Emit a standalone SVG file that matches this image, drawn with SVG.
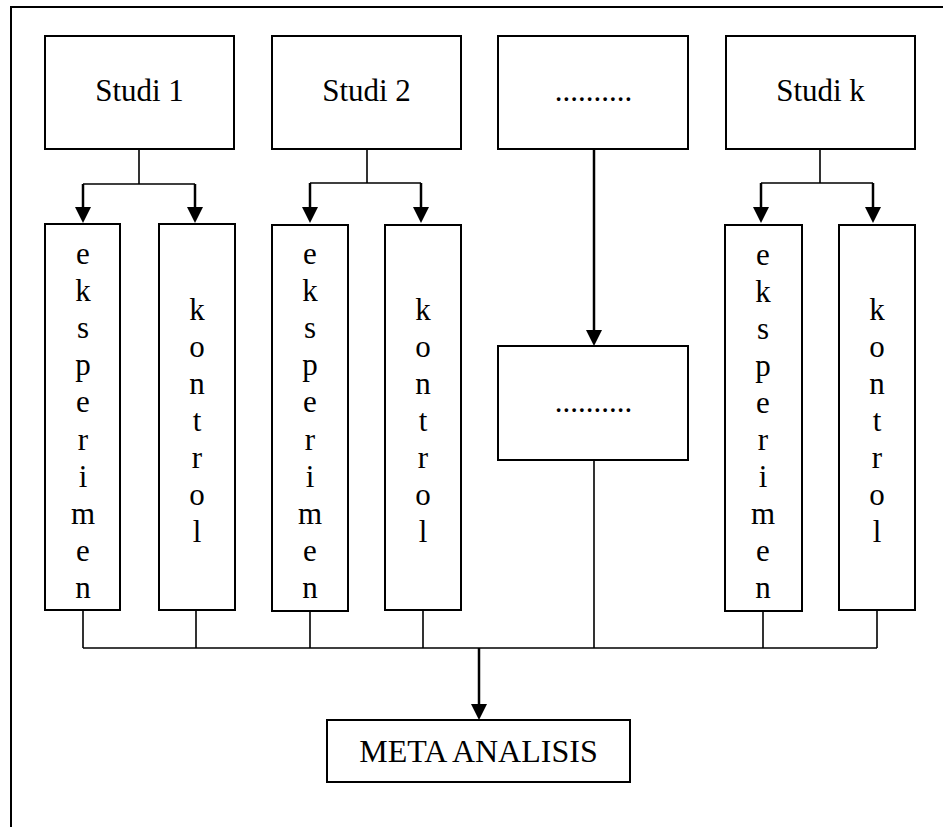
<svg xmlns="http://www.w3.org/2000/svg" width="943" height="827" viewBox="0 0 943 827">
<defs>
<marker id="ah" viewBox="0 0 16 16" refX="8" refY="8" markerWidth="16" markerHeight="16" markerUnits="userSpaceOnUse" orient="auto">
<path d="M0,0 L16,8 L0,16 z" fill="#000"/>
</marker>
<style>
.box{fill:#fff;stroke:#000;stroke-width:2}
.t{font-family:"Liberation Serif","Times New Roman",serif;font-size:31px;fill:#000;text-anchor:middle}
.c{fill:none;stroke:#000;stroke-width:1.6}
.a{fill:none;stroke:#000;stroke-width:2.5;marker-end:url(#ah)}
</style>
</defs>
<rect width="943" height="827" fill="#fff"/>
<path d="M11,827 V7 H943" fill="none" stroke="#000" stroke-width="2"/>

<g id="studi1"><rect class="box" x="45" y="36" width="189" height="113"/><text class="t" x="139.5" y="101">Studi 1</text></g>
<g id="studi2"><rect class="box" x="272" y="36" width="189" height="113"/><text class="t" x="366.5" y="101">Studi 2</text></g>
<g id="studi_dots"><rect class="box" x="498" y="36" width="190" height="113"/><text class="t" x="593.5" y="101">..........</text></g>
<g id="studik"><rect class="box" x="726" y="36" width="189" height="113"/><text class="t" x="820.5" y="101">Studi k</text></g>

<g id="eksperimen1"><rect class="box" x="45" y="224" width="75" height="386"/>
<text class="t"><tspan x="83" y="264">e</tspan><tspan x="83" y="301">k</tspan><tspan x="83" y="338">s</tspan><tspan x="83" y="375">p</tspan><tspan x="83" y="412">e</tspan><tspan x="83" y="450">r</tspan><tspan x="83" y="487">i</tspan><tspan x="83" y="524">m</tspan><tspan x="83" y="561">e</tspan><tspan x="83" y="598">n</tspan></text></g>
<g id="kontrol1"><rect class="box" x="159" y="224" width="76" height="386"/>
<text class="t"><tspan x="197" y="320">k</tspan><tspan x="197" y="357">o</tspan><tspan x="197" y="394">n</tspan><tspan x="197" y="431">t</tspan><tspan x="197" y="468">r</tspan><tspan x="197" y="505">o</tspan><tspan x="197" y="542">l</tspan></text></g>

<g id="eksperimen2"><rect class="box" x="272" y="225" width="76" height="386"/>
<text class="t"><tspan x="310" y="264">e</tspan><tspan x="310" y="301">k</tspan><tspan x="310" y="338">s</tspan><tspan x="310" y="375">p</tspan><tspan x="310" y="412">e</tspan><tspan x="310" y="450">r</tspan><tspan x="310" y="487">i</tspan><tspan x="310" y="524">m</tspan><tspan x="310" y="561">e</tspan><tspan x="310" y="598">n</tspan></text></g>
<g id="kontrol2"><rect class="box" x="385" y="225" width="76" height="385"/>
<text class="t"><tspan x="423" y="320">k</tspan><tspan x="423" y="357">o</tspan><tspan x="423" y="394">n</tspan><tspan x="423" y="431">t</tspan><tspan x="423" y="468">r</tspan><tspan x="423" y="505">o</tspan><tspan x="423" y="542">l</tspan></text></g>

<g id="mid_dots"><rect class="box" x="498" y="346" width="190" height="114"/><text class="t" x="593.5" y="412">..........</text></g>

<g id="eksperimenk"><rect class="box" x="725" y="225" width="77" height="386"/>
<text class="t"><tspan x="763" y="265">e</tspan><tspan x="763" y="302">k</tspan><tspan x="763" y="339">s</tspan><tspan x="763" y="376">p</tspan><tspan x="763" y="413">e</tspan><tspan x="763" y="450">r</tspan><tspan x="763" y="487">i</tspan><tspan x="763" y="524">m</tspan><tspan x="763" y="561">e</tspan><tspan x="763" y="598">n</tspan></text></g>
<g id="kontrolk"><rect class="box" x="839" y="225" width="76" height="385"/>
<text class="t"><tspan x="877" y="320">k</tspan><tspan x="877" y="357">o</tspan><tspan x="877" y="394">n</tspan><tspan x="877" y="431">t</tspan><tspan x="877" y="468">r</tspan><tspan x="877" y="505">o</tspan><tspan x="877" y="542">l</tspan></text></g>

<g id="meta"><rect class="box" x="327" y="720" width="303" height="62"/><text class="t" x="478.5" y="762" style="font-size:32px">META ANALISIS</text></g>

<g id="connectors">
<path class="c" d="M139,149 V184 M83,184 H195"/>
<path class="a" d="M83,184 V215"/>
<path class="a" d="M195,184 V215"/>
<path class="c" d="M367,149 V183 M310,183 H421"/>
<path class="a" d="M310,183 V215"/>
<path class="a" d="M421,183 V215"/>
<path class="c" d="M820,149 V183 M761,183 H873"/>
<path class="a" d="M761,183 V215"/>
<path class="a" d="M873,183 V215"/>
<path class="a" d="M594,149 V338"/>
<path class="c" d="M83,610 V648 M196,610 V648 M310,611 V648 M423,610 V648 M594,460 V648 M763,611 V648 M877,610 V648 M83,648 H877"/>
<path class="a" d="M479,648 V712"/>
</g>
</svg>
